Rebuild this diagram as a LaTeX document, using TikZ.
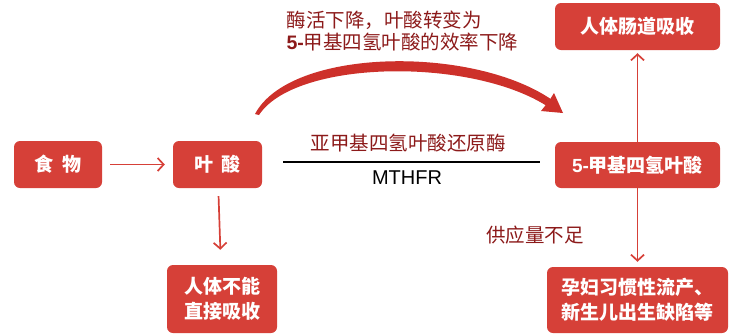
\documentclass[tikz,border=0pt]{standalone}
\usepackage{fontspec}
\setmainfont{Liberation Sans}
\newfontfamily\cjk{Noto Sans CJK SC}
\newfontfamily\latn{Liberation Sans}
\usetikzlibrary{positioning,calc,arrows.meta}
\definecolor{boxred}{RGB}{214,64,56}
\definecolor{inkred}{RGB}{140,26,26}
\definecolor{arcred}{RGB}{205,48,42}

\begin{document}
\begin{tikzpicture}[x=1pt, y=-1pt,
  redbox/.style={fill=boxred, rounded corners=6pt, text=white, align=center, inner sep=0pt,
    font=\cjk\bfseries\fontsize{19}{25}\selectfont},
  flow/.style={draw=boxred, line width=1.7pt, -{Straight Barb[length=6pt,width=13pt]}},
  note/.style={text=inkred, font=\cjk\fontsize{19.5}{22}\selectfont}]
  \useasboundingbox (0,0) rectangle (730,333);

  % Boxes (Left)
  \node[redbox, minimum width=88pt, minimum height=47pt] (food) at (58,164.5) {食\hspace{9pt}物};
  \node[redbox, minimum width=89pt, minimum height=47pt] (folate) at (217.5,164.5) {叶\hspace{9pt}酸};
  \node[redbox, minimum width=110pt, minimum height=68pt] (noabs) at (222,299) {人体不能\\直接吸收};

  % Boxes (Right)
  \node[redbox, minimum width=165pt, minimum height=47pt] (absorb) at (637.5,26.5) {人体肠道吸收};
  \node[redbox, minimum width=165pt, minimum height=46pt] (mthf) at (637.5,165) {{\latn\bfseries 5-}甲基四氢叶酸};
  \node[redbox, minimum width=181pt, minimum height=66pt] (defect) at (637.5,300) {孕妇习惯性流产、\\新生儿出生缺陷等};

  % Arrows
  \draw[flow, shorten <=8pt, shorten >=8pt] (food) -- (folate);
  \draw[flow, shorten <=8pt, shorten >=15pt] (folate) -- (noabs);
  \draw[flow, shorten >=3pt] (mthf) -- (absorb);
  \draw[flow, shorten >=5pt] (mthf) -- (defect);

  % Enzyme line
  \coordinate (lnL) at (283,162);
  \coordinate (lnR) at (540,162);
  \draw[line width=1.2pt] (lnL) -- (lnR);
  \node[note] (enzyme) at (408,143) {亚甲基四氢叶酸还原酶};
  \node[font=\fontsize{20}{24}\selectfont] (mthfr) at (407,178) {MTHFR};
  \node[note] (supply) at (535,235) {供应量不足};

  % Curved arrow
  \fill[arcred] (255,114) .. controls (290,48) and (470,45) .. (550.4,98.8) -- (554,93)
    -- (563,113) -- (541,111) -- (545.6,105.2) .. controls (468,57) and (295,60) .. (259,115) -- cycle;
  \node[note, anchor=west, align=left] (drop) at (283,31)
    {酶活下降，叶酸转变为\\{\latn\bfseries 5-}甲基四氢叶酸的效率下降};
\end{tikzpicture}
\end{document}
